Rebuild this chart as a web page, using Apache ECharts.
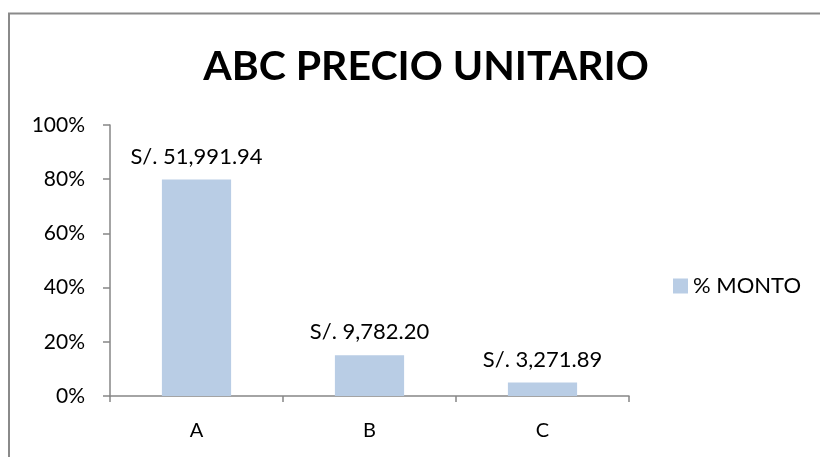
<!DOCTYPE html>
<html>
<head>
<meta charset="utf-8">
<script src="https://cdn.jsdelivr.net/npm/echarts@6/dist/echarts.min.js"></script>
<style>
    html, body { margin: 0; padding: 0; background: #fff; overflow: hidden; }
    #abcChart { width: 820px; height: 457px; }
</style>
</head>
<body>
<div id="abcChart"></div>
<script>
// datos
let categorias = ['A', 'B', 'C']
let porcentajes = [0.799, 0.150, 0.050]
let montos = [51991.94, 9782.20, 3271.89]
let ticksY = [0, 0.2, 0.4, 0.6, 0.8, 1]

function formatoSoles(v) {
    return 'S/. ' + v.toLocaleString('en-US', { minimumFractionDigits: 2, maximumFractionDigits: 2 })
}

let chart = echarts.init(document.getElementById('abcChart'))
let fuente = 'Lato'
let option = {
    animation: false,
    textStyle: { fontFamily: fuente },
    title: {
        text: 'ABC PRECIO UNITARIO',
        left: 421,
        top: 41,
        textAlign: 'center',
        textStyle: { fontSize: 41, fontWeight: 'bold', color: '#000', fontFamily: fuente }
    },
    graphic: [
        // marco del grafico: solo se ven el borde izquierdo y el superior
        {
            type: 'line',
            shape: { x1: 9, y1: 13.5, x2: 9, y2: 457 },
            style: { stroke: '#8a8a8a', lineWidth: 2 },
            silent: true
        },
        {
            type: 'line',
            shape: { x1: 8, y1: 13.5, x2: 820, y2: 13.5 },
            style: { stroke: '#8a8a8a', lineWidth: 2 },
            silent: true
        }
    ],
    legend: {
        left: 668,
        top: 270,
        itemWidth: 15,
        itemHeight: 15,
        itemGap: 8,
        icon: 'rect',
        textStyle: { fontSize: 22, color: '#000', fontFamily: fuente },
        data: ['% MONTO']
    },
    grid: { left: 110, right: 191, top: 125, bottom: 61 },
    xAxis: {
        type: 'category',
        data: categorias,
        axisLine: { lineStyle: { color: '#868686', width: 1.5 } },
        axisTick: { show: true, length: 6, lineStyle: { color: '#868686', width: 1.5 } },
        axisLabel: { fontSize: 20, color: '#000', margin: 25 }
    },
    yAxis: {
        type: 'value',
        min: 0,
        max: 1,
        interval: 0.2,
        axisLine: { show: true, lineStyle: { color: '#868686', width: 1.5 } },
        axisTick: { show: true, length: 7, lineStyle: { color: '#868686', width: 1.5 } },
        splitLine: { show: false },
        axisLabel: {
            fontSize: 21,
            color: '#000',
            margin: 25,
            formatter: function(v) {
                return ticksY.indexOf(Math.round(v * 10) / 10) >= 0 ? Math.round(v * 100) + '%' : ''
            }
        }
    },
    series: [
        {
            name: '% MONTO',
            type: 'bar',
            data: porcentajes,
            barCategoryGap: '60%',
            itemStyle: { color: '#b9cde5' },
            label: {
                show: true,
                position: 'top',
                distance: 12,
                fontSize: 22,
                color: '#000',
                fontFamily: fuente,
                formatter: function(p) {
                    return formatoSoles(montos[p.dataIndex])
                }
            }
        }
    ]
}
chart.setOption(option)
</script>
</body>
</html>
